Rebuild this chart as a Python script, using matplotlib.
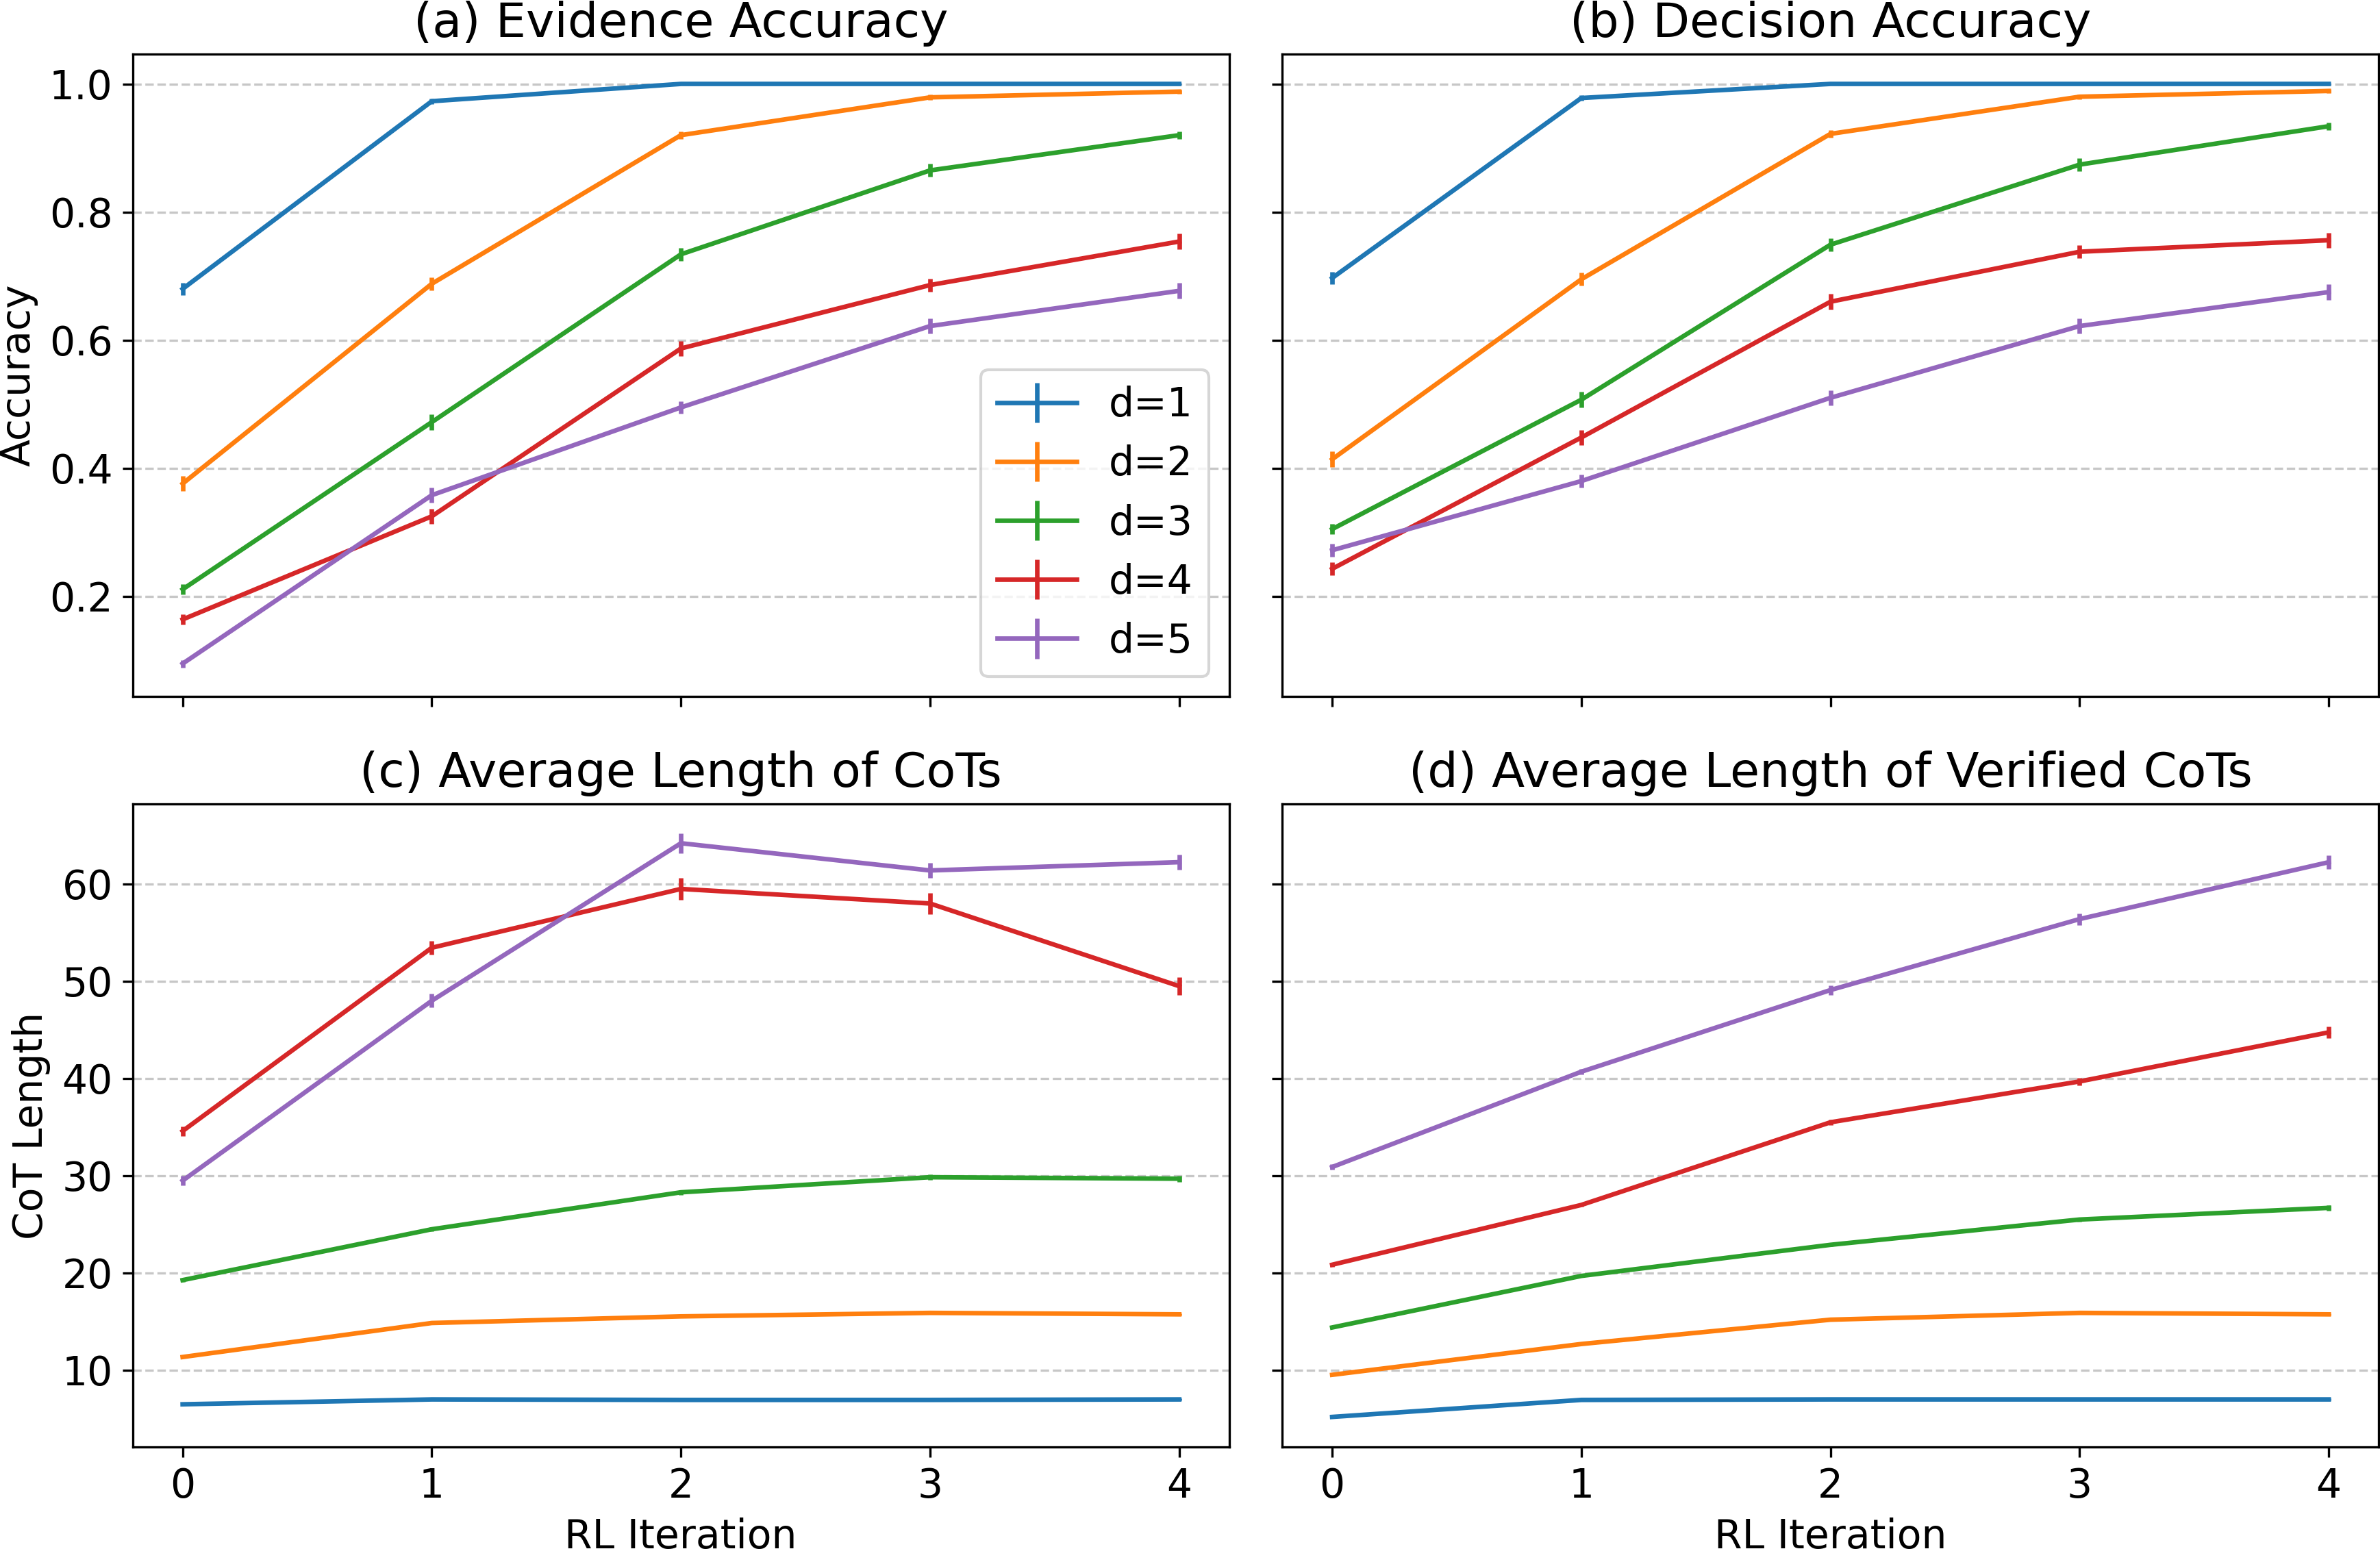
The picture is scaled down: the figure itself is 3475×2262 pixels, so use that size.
import numpy as np
import matplotlib
matplotlib.use("Agg")
import matplotlib.pyplot as plt

# RL iterations and difficulty levels
iters = [0, 1, 2, 3, 4]
depths = ["d=1", "d=2", "d=3", "d=4", "d=5"]

# (a) evidence accuracy, one list per depth
ev_acc = [
    [0.680, 0.973, 1.000, 1.000, 1.000],
    [0.376, 0.688, 0.920, 0.979, 0.988],
    [0.211, 0.472, 0.734, 0.865, 0.920],
    [0.164, 0.325, 0.587, 0.686, 0.754],
    [0.095, 0.358, 0.495, 0.622, 0.677],
]
ev_err = [
    [0.010, 0.004, 0.001, 0.001, 0.001],
    [0.012, 0.010, 0.006, 0.004, 0.003],
    [0.008, 0.012, 0.010, 0.010, 0.006],
    [0.008, 0.012, 0.012, 0.010, 0.012],
    [0.006, 0.012, 0.010, 0.012, 0.012],
]

# (b) decision accuracy
dec_acc = [
    [0.697, 0.978, 1.000, 1.000, 1.000],
    [0.414, 0.695, 0.922, 0.980, 0.989],
    [0.305, 0.507, 0.749, 0.874, 0.934],
    [0.243, 0.448, 0.660, 0.738, 0.756],
    [0.272, 0.380, 0.510, 0.622, 0.675],
]
dec_err = [
    [0.010, 0.004, 0.001, 0.001, 0.001],
    [0.012, 0.010, 0.006, 0.004, 0.003],
    [0.008, 0.012, 0.010, 0.010, 0.006],
    [0.010, 0.012, 0.012, 0.010, 0.012],
    [0.010, 0.010, 0.012, 0.012, 0.012],
]

# (c) average CoT length
cot_len = [
    [6.5, 7.0, 6.95, 6.95, 7.0],
    [11.36, 14.86, 15.54, 15.9, 15.75],
    [19.27, 24.5, 28.3, 29.85, 29.7],
    [34.6, 53.45, 59.5, 58.0, 49.5],
    [29.5, 48.0, 64.2, 61.4, 62.25],
]
cot_err = [
    [0.08, 0.08, 0.08, 0.08, 0.08],
    [0.12, 0.12, 0.12, 0.12, 0.12],
    [0.2, 0.2, 0.25, 0.3, 0.3],
    [0.5, 0.7, 1.1, 1.1, 0.9],
    [0.5, 0.7, 1.0, 0.8, 0.8],
]

# (d) average length of verified CoTs
ver_len = [
    [5.2, 6.95, 7.0, 7.0, 7.0],
    [9.53, 12.7, 15.2, 15.9, 15.75],
    [14.4, 19.7, 22.9, 25.5, 26.7],
    [20.85, 27.0, 35.5, 39.7, 44.75],
    [30.9, 40.7, 49.1, 56.4, 62.25],
]
ver_err = [
    [0.08, 0.08, 0.08, 0.08, 0.08],
    [0.1, 0.1, 0.1, 0.1, 0.1],
    [0.1, 0.1, 0.15, 0.2, 0.3],
    [0.2, 0.2, 0.3, 0.4, 0.6],
    [0.3, 0.3, 0.5, 0.6, 0.7],
]

titles = ["(a) Evidence Accuracy", "(b) Decision Accuracy",
          "(c) Average Length of CoTs", "(d) Average Length of Verified CoTs"]
panels = [(ev_acc, ev_err), (dec_acc, dec_err), (cot_len, cot_err), (ver_len, ver_err)]

fig, axes = plt.subplots(2, 2, sharex=True, sharey="row", figsize=(3475 / 300, 2262 / 300), dpi=300)
fig.subplots_adjust(left=0.0558, right=0.9994, bottom=0.0659, top=0.9651, wspace=0.0486, hspace=0.1674)

for ax, title, (vals, errs) in zip(axes.flat, titles, panels):
    for i in range(len(depths)):
        ax.errorbar(iters, vals[i], yerr=errs[i], label=depths[i], linewidth=1.6)
    ax.set_title(title, fontsize=16.8)
    ax.grid(axis="y", linestyle="--", color="#b0b0b0", alpha=0.7)
    ax.tick_params(labelsize=14)

axes[0, 0].set_ylabel("Accuracy", fontsize=14)
axes[1, 0].set_ylabel("CoT Length", fontsize=14)
axes[1, 0].set_xlabel("RL Iteration", fontsize=14)
axes[1, 1].set_xlabel("RL Iteration", fontsize=14)
axes[1, 0].set_xticks(iters)
axes[0, 0].legend(loc="lower right", fontsize=14)

plt.savefig("out.png", dpi=300)
